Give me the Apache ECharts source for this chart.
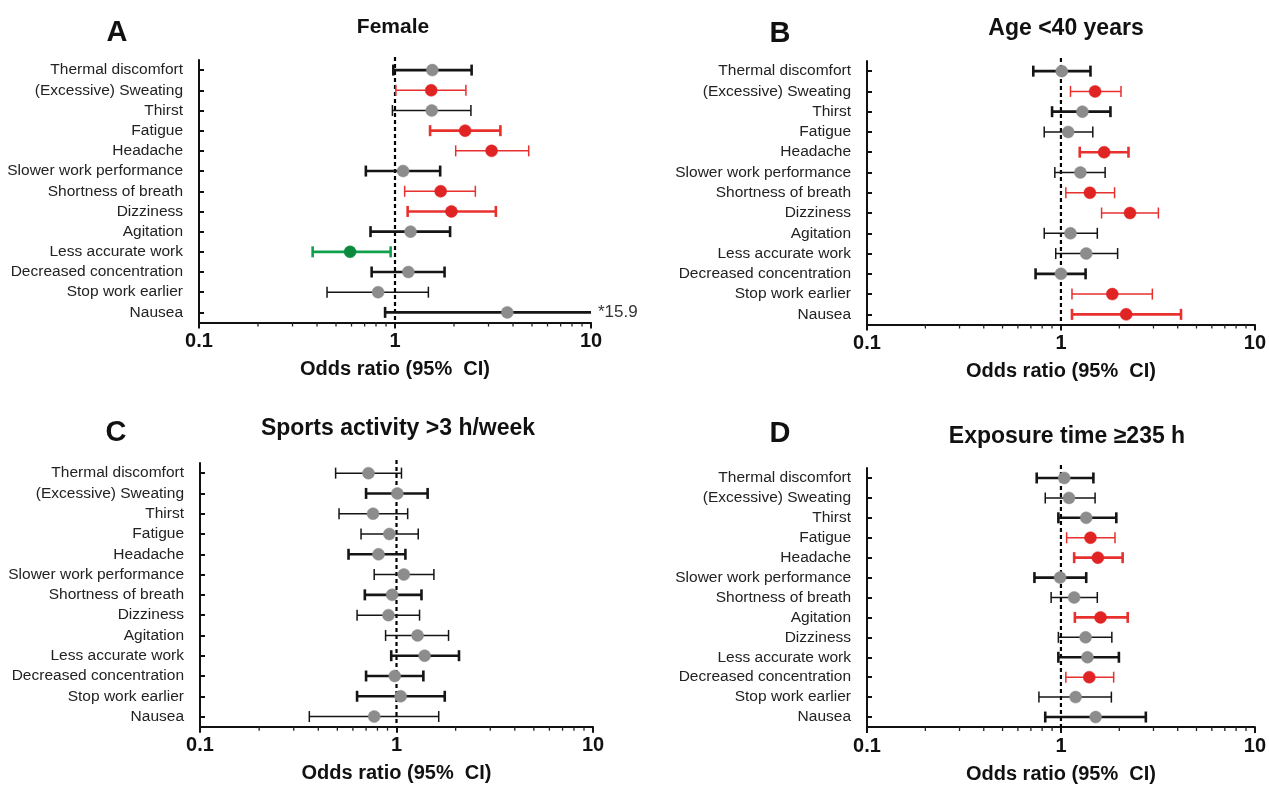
<!DOCTYPE html>
<html><head><meta charset="utf-8">
<script src="https://cdn.jsdelivr.net/npm/echarts@6/dist/echarts.min.js"></script>
<style>html,body{margin:0;padding:0;background:#fff}#c{width:1269px;height:785px}</style>
</head><body><div id="c"></div>
<script>
// ---- data ----
const categoriesABC = ['Thermal discomfort','(Excessive) Sweating','Thirst','Fatigue','Headache','Slower work performance','Shortness of breath','Dizziness','Agitation','Less accurate work','Decreased concentration','Stop work earlier','Nausea'];
const categoriesD = ['Thermal discomfort','(Excessive) Sweating','Thirst','Fatigue','Headache','Slower work performance','Shortness of breath','Agitation','Dizziness','Less accurate work','Decreased concentration','Stop work earlier','Nausea'];

const orA   = [1.55,1.53,1.54,2.28,3.11,1.10,1.71,1.94,1.20,0.59,1.17,0.82,3.74];
const lowA  = [0.98,1.01,0.97,1.51,2.04,0.71,1.12,1.16,0.75,0.38,0.76,0.45,0.89];
const highA = [2.46,2.30,2.44,3.45,4.81,1.70,2.57,3.27,1.91,0.95,1.79,1.48,15.9];

const orB   = [1.01,1.50,1.29,1.09,1.67,1.26,1.41,2.27,1.12,1.35,1.00,1.84,2.17];
const lowB  = [0.72,1.12,0.90,0.82,1.25,0.93,1.06,1.62,0.82,0.94,0.74,1.14,1.14];
const highB = [1.42,2.04,1.80,1.46,2.23,1.69,1.89,3.18,1.54,1.96,1.34,2.96,4.16];

const orC   = [0.72,1.01,0.76,0.92,0.81,1.09,0.95,0.91,1.28,1.39,0.98,1.05,0.77];
const lowC  = [0.49,0.70,0.51,0.66,0.57,0.77,0.69,0.63,0.88,0.94,0.70,0.63,0.36];
const highC = [1.06,1.44,1.14,1.29,1.11,1.55,1.34,1.31,1.84,2.08,1.37,1.76,1.64];

const orD   = [1.04,1.10,1.35,1.42,1.55,0.99,1.17,1.60,1.34,1.37,1.40,1.19,1.51];
const lowD  = [0.75,0.83,0.97,1.07,1.17,0.73,0.89,1.18,0.97,0.97,1.06,0.77,0.83];
const highD = [1.47,1.50,1.93,1.90,2.08,1.35,1.54,2.21,1.83,1.99,1.87,1.82,2.74];

const xMin = 0.1, xMax = 10;
const refValue = 1;
const minorTicks = [0.2,0.3,0.4,0.5,0.6,0.7,0.8,0.9,2,3,4,5,6,7,8,9];

// ---- styles (kept apart from data) ----
const heavyA = [1,0,0,1,0,1,0,1,1,1,1,0,1];
const heavyB = [1,0,1,0,1,0,0,0,0,0,1,0,1];
const heavyC = [0,1,0,0,1,0,1,0,0,1,1,1,0];
const heavyD = [1,0,1,0,1,1,0,1,0,1,0,0,1];

const FONT = 'Liberation Sans, Arial, Helvetica, sans-serif';
const grids = [
  {left:199, top:60,  width:392, height:262.5},
  {left:867, top:61,  width:393, height:263.5},
  {left:200, top:463, width:393, height:263.7},
  {left:867, top:468, width:393, height:263.7}
];
const panels = [
  {cats:categoriesABC, or:orA, lo:lowA, hi:highA, heavy:heavyA},
  {cats:categoriesABC, or:orB, lo:lowB, hi:highB, heavy:heavyB},
  {cats:categoriesABC, or:orC, lo:lowC, hi:highC, heavy:heavyC},
  {cats:categoriesD,   or:orD, lo:lowD, hi:highD, heavy:heavyD}
];

function colorsFor(lo, hi){
  if (lo >= 1) return {line:'#e8302f', dot:'#e02323'};
  if (hi <= 1) return {line:'#10a04c', dot:'#0b8a3e'};
  return {line:'#151515', dot:'#8c8c8c'};
}

function renderBar(params, api){
  const lo = api.value(0), pt = api.value(1), hi = api.value(2), idx = api.value(3), heavy = api.value(4);
  const col = colorsFor(lo, hi);
  const w = heavy ? 2.6 : 1.5;
  const clipped = hi > xMax;
  const a = api.coord([lo, idx]);
  const b = api.coord([pt, idx]);
  const c = api.coord([Math.min(hi, xMax), idx]);
  const cap = 5.5;
  const ls = {stroke: col.line, lineWidth: w};
  const children = [
    {type:'line', shape:{x1:a[0], y1:a[1], x2:c[0], y2:c[1]}, style:ls},
    {type:'line', shape:{x1:a[0], y1:a[1]-cap, x2:a[0], y2:a[1]+cap}, style:ls}
  ];
  if (!clipped) {
    children.push({type:'line', shape:{x1:c[0], y1:c[1]-cap, x2:c[0], y2:c[1]+cap}, style:ls});
  } else {
    children.push({type:'text', x:c[0]+7, y:c[1], style:{text:'*'+hi, font:'17px '+FONT, fill:'#333', textVerticalAlign:'middle', textAlign:'left'}});
  }
  children.push({type:'circle', shape:{cx:b[0], cy:b[1], r:6}, style:{fill:col.dot, stroke:col.dot, lineWidth:0.5}});
  return {type:'group', children};
}

function renderMinor(params, api){
  const cs = params.coordSys;
  const x = api.coord([api.value(0), 0])[0];
  const y = cs.y + cs.height;
  return {type:'line', shape:{x1:x, y1:y, x2:x, y2:y+4}, style:{stroke:'#222', lineWidth:1.3}};
}

function renderRef(params, api){
  const cs = params.coordSys;
  const x = api.coord([api.value(0), 0])[0];
  return {type:'line', shape:{x1:x, y1:cs.y-3, x2:x, y2:cs.y+cs.height},
    style:{stroke:'#000', lineWidth:2.2, lineDash:[4,3]}};
}

const xAxes = [], yAxes = [], series = [];
panels.forEach((p, i) => {
  xAxes.push({
    gridIndex:i, type:'log', logBase:10, min:xMin, max:xMax,
    name:'Odds ratio (95%  CI)', nameLocation:'middle', nameGap:37,
    nameTextStyle:{fontFamily:FONT, fontSize:20, fontWeight:'bold', color:'#111'},
    axisLine:{show:true, lineStyle:{color:'#111', width:2}},
    axisTick:{show:true, length:6, lineStyle:{color:'#111', width:2}},
    axisLabel:{fontFamily:FONT, fontSize:20, fontWeight:'bold', color:'#111', margin:9,
      formatter: v => (v < 0.5 ? '0.1' : (v < 5 ? '1' : '10'))},
    splitLine:{show:false}
  });
  yAxes.push({
    gridIndex:i, type:'category', inverse:true, data:p.cats,
    axisLine:{show:true, lineStyle:{color:'#111', width:2}},
    axisTick:{show:true, alignWithLabel:true, interval:0, inside:true, length:5, lineStyle:{color:'#111', width:2}},
    axisLabel:{fontFamily:FONT, fontSize:15.5, color:'#222', margin:16, interval:0, hideOverlap:false},
    splitLine:{show:false}
  });
  series.push({
    type:'custom', xAxisIndex:i, yAxisIndex:i, renderItem:renderRef,
    data:[[refValue, 0]], encode:{x:0, y:1}, clip:false, silent:true, z:2
  });
  series.push({
    type:'custom', xAxisIndex:i, yAxisIndex:i, renderItem:renderBar,
    data: p.cats.map((c, k) => [p.lo[k], p.or[k], p.hi[k], k, p.heavy[k]]),
    encode:{x:1, y:3}, clip:false, z:3
  });
  series.push({
    type:'custom', xAxisIndex:i, yAxisIndex:i, renderItem:renderMinor,
    data: minorTicks.map(v => [v, 0]), encode:{x:0, y:1}, clip:false, silent:true, z:1
  });
});

const txt = (t, x, y, size) => ({type:'text', x, y,
  style:{text:t, font:'bold '+size+'px '+FONT, fill:'#111', textAlign:'center', textVerticalAlign:'middle'}});

const chart = echarts.init(document.getElementById('c'), null, {renderer:'canvas'});
chart.setOption({
  animation:false,
  backgroundColor:'#fff',
  grid: grids,
  xAxis: xAxes,
  yAxis: yAxes,
  series,
  graphic: [
    txt('A', 117, 33, 29), txt('Female', 393, 27, 21),
    txt('B', 780, 34, 29), txt('Age <40 years', 1066, 29, 23),
    txt('C', 116, 433, 29), txt('Sports activity >3 h/week', 398, 429, 23),
    txt('D', 780, 434, 29), txt('Exposure time \u2265235 h', 1067, 437, 23)
  ]
});
</script></body></html>
